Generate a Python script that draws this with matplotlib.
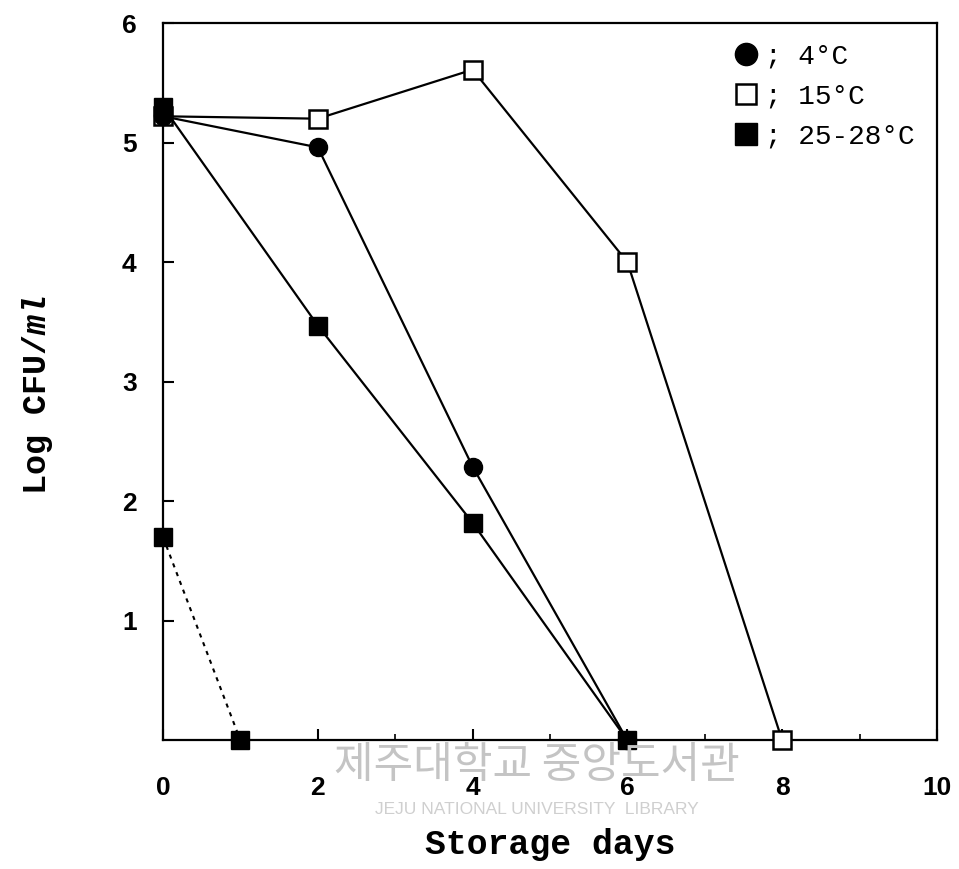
import numpy as np
import matplotlib.pyplot as plt
from matplotlib.lines import Line2D
from matplotlib.ticker import MultipleLocator

# Datos (log CFU/ml vs días de almacenamiento)
dias_4c = [0, 2, 4, 6]
log_4c = [5.22, 4.96, 2.29, 0.0]

dias_15c = [0, 2, 4, 6, 8]
log_15c = [5.22, 5.20, 5.61, 4.00, 0.0]

dias_25c = [0, 2, 4, 6]
log_25c = [5.30, 3.47, 1.82, 0.0]

dias_25c_b = [0, 1]
log_25c_b = [1.70, 0.0]

xticks = [0, 2, 4, 6, 8, 10]
yticks = [1, 2, 3, 4, 5, 6]

plt.rcParams['mathtext.fontset'] = 'custom'
plt.rcParams['mathtext.it'] = 'Liberation Mono:italic:bold'
plt.rcParams['mathtext.rm'] = 'Liberation Mono:bold'

fig = plt.figure(figsize=(9.59, 8.69), dpi=100)
ax = fig.add_axes([0.170, 0.148, 0.807, 0.8255])

lw = 1.6
ax.plot(dias_15c, log_15c, color='black', lw=lw, marker='s', ms=13,
        mfc='white', mec='black', mew=1.8, zorder=3, clip_on=False)
ax.plot(dias_4c, log_4c, color='black', lw=lw, marker='o', ms=13,
        mfc='black', mec='black', zorder=4, clip_on=False)
ax.plot(dias_25c, log_25c, color='black', lw=lw, marker='s', ms=13,
        mfc='black', mec='black', zorder=5, clip_on=False)
ax.plot(dias_25c_b, log_25c_b, color='black', lw=1.5, ls=(0, (2, 2.5)),
        marker='s', ms=13, mfc='black', mec='black', zorder=5, clip_on=False)

ax.set_xlim(0, 10)
ax.set_ylim(0, 6)
ax.set_xticks(xticks)
ax.set_yticks(yticks)
ax.xaxis.set_minor_locator(MultipleLocator(1))
ax.tick_params(axis='both', which='major', direction='in', length=8, width=1.5,
               labelsize=19)
ax.tick_params(axis='x', which='major', pad=26)
ax.tick_params(axis='y', which='major', pad=19)
ax.tick_params(axis='x', which='minor', direction='in', length=4, width=1.2)
for lab in ax.get_xticklabels() + ax.get_yticklabels():
    lab.set_fontweight('bold')
    lab.set_family('Liberation Sans')
for sp in ax.spines.values():
    sp.set_linewidth(1.6)

ax.set_xlabel('Storage days', family='Liberation Mono', fontweight='bold',
              fontsize=25, labelpad=20)
fig.text(0.039, 0.545, r'Log CFU/$\mathit{ml}$', family='Liberation Mono',
         fontweight='bold', fontsize=24, rotation=90, ha='center', va='center')

# Leyenda
handles = [
    Line2D([], [], ls='none', marker='o', ms=16, mfc='black', mec='black'),
    Line2D([], [], ls='none', marker='s', ms=14, mfc='white', mec='black', mew=1.8),
    Line2D([], [], ls='none', marker='s', ms=16, mfc='black', mec='black'),
]
labels = ['; 4°C', '; 15°C', '; 25-28°C']
ax.legend(handles, labels, loc='upper right', frameon=False,
          prop={'family': 'Liberation Mono', 'size': 20},
          handlelength=0.8, handletextpad=0.3, labelspacing=0.5,
          bbox_to_anchor=(1.004, 1.006))

# Marca de agua de la biblioteca
fig.text(0.56, 0.118, '제주대학교 중앙도서관', family='Noto Sans CJK KR',
         fontsize=31, color='#c4c4c4', ha='center', va='center', zorder=0)
fig.text(0.56, 0.069, 'JEJU NATIONAL UNIVERSITY  LIBRARY', family='Liberation Sans',
         fontsize=12.5, color='#cfcfcf', ha='center', va='center', zorder=0)

fig.savefig('out.png', dpi=100)
